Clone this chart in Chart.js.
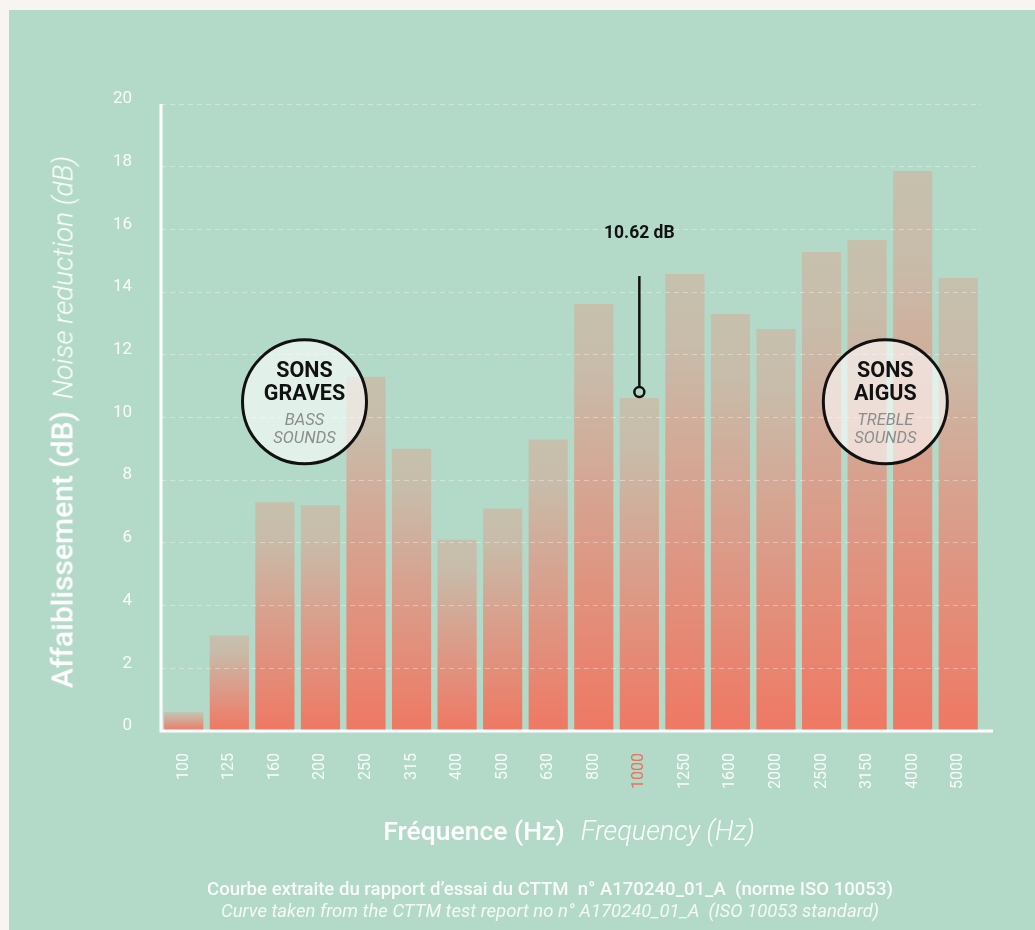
<!DOCTYPE html>
<html>
<head>
<meta charset="utf-8">
<script src="https://cdn.jsdelivr.net/npm/chart.js@4.4.1/dist/chart.umd.min.js"></script>
<style>
  html, body { margin: 0; padding: 0; background: #f7f5f2; }
  #wrap { position: relative; width: 1035px; height: 930px; overflow: hidden; font-family: Roboto, sans-serif; }
  #panel { position: absolute; left: 9px; top: 10px; right: 0; bottom: 0; background: #b3dac8; }
  #box { position: absolute; left: 0; top: 0; width: 1035px; height: 930px; }
  .ytitle { position: absolute; left: 62px; top: 422px; transform: translate(-50%, -50%) rotate(-90deg);
            white-space: nowrap; color: #fff; }
  .ytitle .fr { font-size: 30px; }
  .ytitle .en { font-size: 28px; margin-left: 12px; }
  .xtitle { position: absolute; left: 569px; top: 831px; transform: translate(-50%, -50%);
            white-space: nowrap; color: #fff; font-size: 26.5px; }
  .xtitle .en { font-size: 27px; }
  .fr { font-weight: 500; }
  .en { font-style: italic; font-weight: 300; margin-left: 16px; }
  .foot { position: absolute; left: 550px; transform: translate(-50%, -50%); white-space: nowrap;
          color: rgba(255,255,255,0.92); }
  .zone { position: absolute; width: 124px; transform: translate(-50%, -50%); text-align: center; }
  .zone b { display: block; font-size: 21.5px; line-height: 23px; color: #111; font-weight: 700; }
  .zone i { display: block; font-size: 16.5px; line-height: 18px; color: #8a8e8c; font-weight: 400; }
  .zone .gap { height: 7px; }
  #mark { position: absolute; transform: translate(-50%, -50%); font-size: 17.5px; font-weight: 700; color: #111; white-space: nowrap; }
</style>
</head>
<body>
<div id="wrap">
  <div id="panel"></div>
  <div id="box"><canvas id="chart"></canvas></div>
  <div class="ytitle"><span class="fr">Affaiblissement (dB)</span><span class="en">Noise reduction (dB)</span></div>
  <div class="xtitle"><span class="fr">Fréquence (Hz)</span><span class="en">Frequency (Hz)</span></div>
  <div class="foot" style="top:889px;font-size:18.6px;font-weight:500;">Courbe extraite du rapport d’essai du CTTM&nbsp; n° A170240_01_A&nbsp; (norme ISO 10053)</div>
  <div class="foot" style="top:911px;font-size:18.5px;font-style:italic;font-weight:400;color:rgba(255,255,255,0.85);">Curve taken from the CTTM test report no n° A170240_01_A&nbsp; (ISO 10053 standard)</div>
  <div class="zone" id="zone0"><b>SONS</b><b>GRAVES</b><div class="gap"></div><i>BASS</i><i>SOUNDS</i></div>
  <div class="zone" id="zone1"><b>SONS</b><b>AIGUS</b><div class="gap"></div><i>TREBLE</i><i>SOUNDS</i></div>
  <div id="mark"></div>
</div>
<script>
// frequencies (Hz) and measured noise reduction (dB)
const frequencies = ["100", "125", "160", "200", "250", "315", "400", "500", "630",
                     "800", "1000", "1250", "1600", "2000", "2500", "3150", "4000", "5000"];
const reduction = [0.6, 3.05, 7.3, 7.2, 11.3, 9.0, 6.1, 7.1, 9.3,
                   13.62, 10.62, 14.58, 13.3, 12.82, 15.28, 15.66, 17.86, 14.45];
const yTicks = [0, 2, 4, 6, 8, 10, 12, 14, 16, 18, 20];
const highlighted = "1000";

const BEIGE = "#c6c0ad";
const SALMON = "#ef7863";

// bar gradient, beige at the top of each bar, salmon at its base
function barFill(c) {
  const chart = c.chart;
  if (!chart.chartArea || c.type !== "data") return SALMON;
  const y = chart.scales.y;
  const top = y.getPixelForValue(c.raw);
  const base = y.getPixelForValue(0);
  const g = chart.ctx.createLinearGradient(0, top, 0, base);
  g.addColorStop(0, BEIGE);
  g.addColorStop(0.15, "#c8bcaa");
  g.addColorStop(1, SALMON);
  return g;
}

const zones = [
  { id: "zone0", at: 2.65, level: 10.5 },
  { id: "zone1", at: 15.4, level: 10.5 }
];

const overlay = {
  id: "overlay",
  afterDraw(chart) {
    const { ctx, chartArea: a, scales: { x, y } } = chart;
    ctx.save();
    // axis lines
    ctx.strokeStyle = "#ffffff";
    ctx.lineWidth = 3;
    ctx.beginPath();
    ctx.moveTo(a.left, a.top);
    ctx.lineTo(a.left, a.bottom);
    ctx.lineTo(a.right + 12, a.bottom);
    ctx.stroke();

    // zone circles
    zones.forEach(z => {
      const cx = x.getPixelForValue(z.at), cy = y.getPixelForValue(z.level);
      ctx.beginPath();
      ctx.arc(cx, cy, 62, 0, Math.PI * 2);
      ctx.fillStyle = "rgba(255,255,255,0.6)";
      ctx.fill();
      ctx.lineWidth = 3;
      ctx.strokeStyle = "#111";
      ctx.stroke();
      const el = document.getElementById(z.id);
      el.style.left = cx + "px";
      el.style.top = (cy + 0.5) + "px";
    });

    // marker on the highlighted frequency
    const i = frequencies.indexOf(highlighted);
    const mx = x.getPixelForValue(i), my = y.getPixelForValue(reduction[i]);
    ctx.lineWidth = 2.5;
    ctx.beginPath();
    ctx.moveTo(mx, my - 122);
    ctx.lineTo(mx, my - 11);
    ctx.stroke();
    ctx.beginPath();
    ctx.arc(mx, my - 6, 5, 0, Math.PI * 2);
    ctx.stroke();
    ctx.restore();
    const mark = document.getElementById("mark");
    mark.textContent = reduction[i].toFixed(2) + " dB";
    mark.style.left = mx + "px";
    mark.style.top = (my - 166) + "px";
  }
};

new Chart(document.getElementById("chart"), {
  type: "bar",
  data: {
    labels: frequencies,
    datasets: [{
      data: reduction,
      backgroundColor: barFill,
      borderWidth: 0,
      barPercentage: 0.86,
      categoryPercentage: 1
    }]
  },
  options: {
    responsive: true,
    maintainAspectRatio: false,
    animation: false,
    events: [],
    layout: { padding: { left: 0, top: 104, right: 54, bottom: 0 } },
    plugins: { legend: { display: false }, tooltip: { enabled: false } },
    scales: {
      x: {
        grid: { display: false },
        border: { display: false },
        ticks: {
          autoSkip: false,
          minRotation: 90,
          maxRotation: 90,
          padding: 14,
          font: { family: "Roboto", size: 16 },
          color: c => frequencies[c.index] === highlighted ? "#e9725c" : "rgba(255,255,255,0.9)"
        },
        afterFit: s => { s.height = 199; }
      },
      y: {
        min: 0,
        max: 20,
        afterBuildTicks: s => { s.ticks = yTicks.map(v => ({ value: v })); },
        grid: {
          z: 1,
          drawTicks: false,
          color: c => c.tick.value === 0 ? "rgba(0,0,0,0)" : "rgba(255,255,255,0.35)",
          lineWidth: 1
        },
        border: { display: false, dash: [5, 4] },
        ticks: {
          padding: 29,
          labelOffset: -5,
          font: { family: "Roboto", size: 17 },
          color: "rgba(255,255,255,0.92)"
        },
        afterFit: s => { s.width = 161; }
      }
    }
  },
  plugins: [overlay]
});
</script>
</body>
</html>
